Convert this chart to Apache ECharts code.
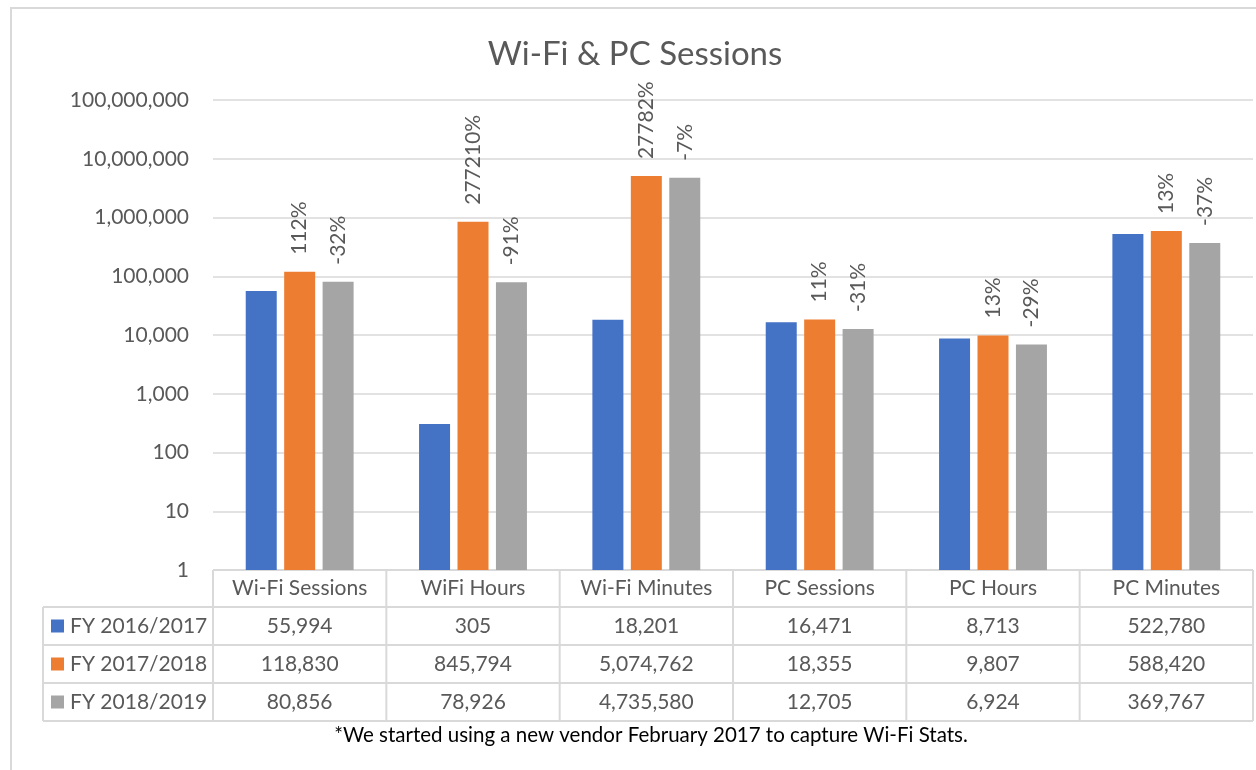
<!DOCTYPE html>
<html>
<head>
<meta charset="utf-8">
<script src="https://cdn.jsdelivr.net/npm/echarts@6/dist/echarts.min.js"></script>
<style>
  html, body { margin: 0; padding: 0; background: #ffffff; }
  #chart { width: 1256px; height: 770px; }
</style>
</head>
<body>
<div id="chart"></div>
<script>
const categories = ['Wi-Fi Sessions', 'WiFi Hours', 'Wi-Fi Minutes', 'PC Sessions', 'PC Hours', 'PC Minutes'];
const seriesNames = ['FY 2016/2017', 'FY 2017/2018', 'FY 2018/2019'];
const fy1617 = [55994, 305, 18201, 16471, 8713, 522780];
const fy1718 = [118830, 845794, 5074762, 18355, 9807, 588420];
const fy1819 = [80856, 78926, 4735580, 12705, 6924, 369767];
const changeLabels1718 = ['112%', '277210%', '27782%', '11%', '13%', '13%'];
const changeLabels1819 = ['-32%', '-91%', '-7%', '-31%', '-29%', '-37%'];
const title = 'Wi-Fi & PC Sessions';
const footnote = '*We started using a new vendor February 2017 to capture Wi-Fi Stats.';

const colors = ['#4472C4', '#ED7D31', '#A5A5A5'];
const FONT = 'Lato';
const TXT = '#595959';
const LINE = '#d9d9d9';
const FS = 21;

const gridLeft = 213, gridRightEdge = 1253, gridTop = 100, gridBottomY = 570;
const headerBottom = 607, rowH = 38, legendLeft = 43;

const chart = echarts.init(document.getElementById('chart'));
const fmt = v => Number(v).toLocaleString('en-US');

function labelCfg(arr) {
  return {
    show: true, position: 'top', rotate: 90, align: 'left', verticalAlign: 'middle',
    distance: 17, color: TXT, fontFamily: FONT, fontSize: FS,
    formatter: p => arr[p.dataIndex]
  };
}

const option = {
  animation: false,
  backgroundColor: '#ffffff',
  title: {
    text: title, left: 630, textAlign: 'center', top: 33,
    textStyle: { fontFamily: FONT, fontSize: 33, fontWeight: 'normal', color: TXT }
  },
  grid: { left: gridLeft, right: 1256 - gridRightEdge, top: gridTop, bottom: 770 - gridBottomY, containLabel: false },
  xAxis: {
    type: 'category', data: categories,
    axisLine: { show: false }, axisTick: { show: false },
    axisLabel: { margin: 8, color: TXT, fontFamily: FONT, fontSize: FS, interval: 0 }
  },
  yAxis: {
    type: 'log', logBase: 10, min: 1, max: 100000000, splitNumber: 8,
    axisLine: { show: false }, axisTick: { show: false },
    axisLabel: { margin: 24, color: TXT, fontFamily: FONT, fontSize: FS, formatter: v => fmt(v) },
    splitLine: { lineStyle: { color: LINE, width: 1.5 } }
  },
  series: [
    { name: seriesNames[0], type: 'bar', data: fy1617, barWidth: 31, barGap: '24%', itemStyle: { color: colors[0] } },
    { name: seriesNames[1], type: 'bar', data: fy1718, barWidth: 31, barGap: '24%', itemStyle: { color: colors[1] }, label: labelCfg(changeLabels1718) },
    { name: seriesNames[2], type: 'bar', data: fy1819, barWidth: 31, barGap: '24%', itemStyle: { color: colors[2] }, label: labelCfg(changeLabels1819) }
  ]
};
chart.setOption(option);

// Data table below the plot
const g = [];
const seriesData = [fy1617, fy1718, fy1819];
const catW = (gridRightEdge - gridLeft) / categories.length;
const tableBottom = headerBottom + rowH * seriesNames.length;
const lineStyle = { stroke: LINE, lineWidth: 2 };

// outer frame
g.push({ type: 'rect', shape: { x: 11, y: 8, width: 1300, height: 800 }, style: { fill: null, stroke: LINE, lineWidth: 2 }, silent: true });

// horizontal lines
g.push({ type: 'line', shape: { x1: gridLeft, y1: gridBottomY, x2: gridRightEdge, y2: gridBottomY }, style: lineStyle });
for (let r = 0; r <= seriesNames.length; r++) {
  const y = headerBottom + r * rowH;
  g.push({ type: 'line', shape: { x1: legendLeft, y1: y, x2: gridRightEdge, y2: y }, style: lineStyle });
}
// vertical lines
g.push({ type: 'line', shape: { x1: legendLeft, y1: headerBottom, x2: legendLeft, y2: tableBottom }, style: lineStyle });
for (let c = 0; c <= categories.length; c++) {
  const x = gridLeft + c * catW;
  g.push({ type: 'line', shape: { x1: x, y1: gridBottomY, x2: x, y2: tableBottom }, style: lineStyle });
}
// legend cells + values
seriesNames.forEach((name, r) => {
  const cy = headerBottom + r * rowH + rowH / 2;
  g.push({ type: 'rect', shape: { x: 51, y: cy - 6.5, width: 13, height: 13 }, style: { fill: colors[r] } });
  g.push({ type: 'text', x: 70, y: cy, style: { text: name, fill: TXT, font: FS + 'px ' + FONT, textAlign: 'left', textVerticalAlign: 'middle' } });
  categories.forEach((cat, c) => {
    const cx = chart.convertToPixel({ xAxisIndex: 0 }, cat);
    g.push({ type: 'text', x: cx, y: cy, style: { text: fmt(seriesData[r][c]), fill: TXT, font: FS + 'px ' + FONT, textAlign: 'center', textVerticalAlign: 'middle' } });
  });
});
// footnote
g.push({ type: 'text', x: 651, y: 735, style: { text: footnote, fill: '#000000', font: '20.5px ' + FONT, textAlign: 'center', textVerticalAlign: 'middle' } });

chart.setOption({ graphic: g });
</script>
</body>
</html>
